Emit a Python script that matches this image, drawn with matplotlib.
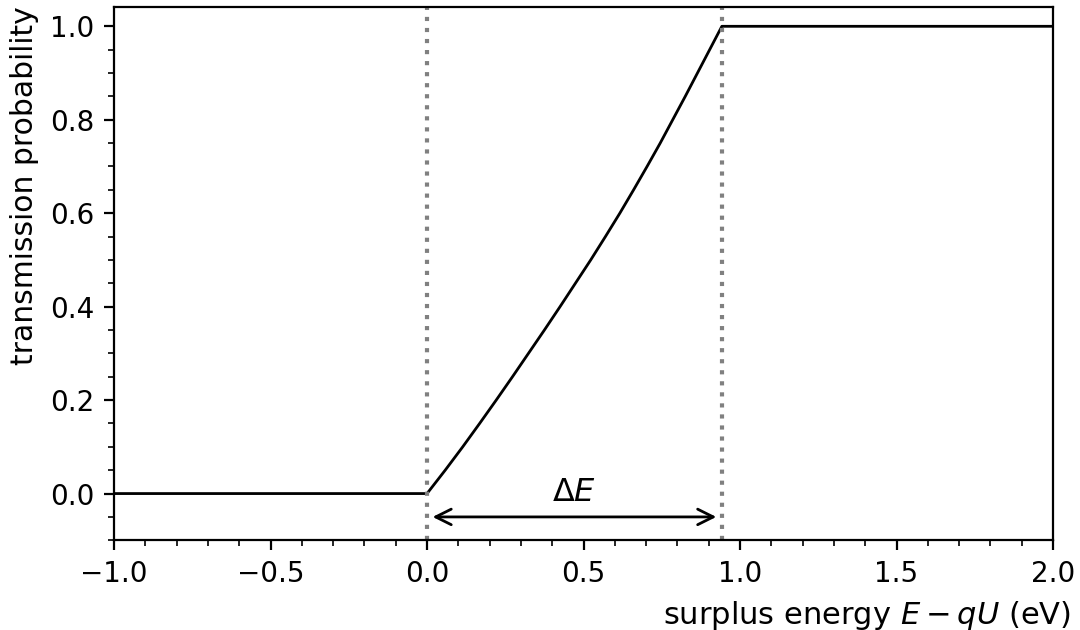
import matplotlib
matplotlib.use("Agg")
import matplotlib.pyplot as plt
from matplotlib.ticker import AutoMinorLocator

# values (flat below 0 and above delta E)
energy = [-1.0, 0.0, 0.058, 0.114, 0.168, 0.221, 0.273, 0.324, 0.375, 0.425,
          0.474, 0.523, 0.570, 0.616, 0.660, 0.703, 0.745, 0.785, 0.825,
          0.864, 0.903, 0.942, 2.0]
trans = [0.0, 0.0, 0.05, 0.10, 0.15, 0.20, 0.25, 0.30, 0.35, 0.40,
         0.45, 0.50, 0.55, 0.60, 0.65, 0.70, 0.75, 0.80, 0.85,
         0.90, 0.95, 1.0, 1.0]
delta_e = 0.942
arrow_y = -0.05

plt.rcParams['font.size'] = 10

fig = plt.figure(figsize=(5.4, 3.15), dpi=200)
ax = fig.add_axes([0.1056, 0.1424, 0.8694, 0.847])

ax.plot(energy, trans, color='black', lw=1.0)
ax.axvline(0.0, color='gray', ls=':', lw=1.5)
ax.axvline(delta_e, color='gray', ls=':', lw=1.5)

ax.annotate('', xy=(0.0, arrow_y), xytext=(delta_e, arrow_y),
            arrowprops=dict(arrowstyle='<->', color='black', lw=1.0,
                            mutation_scale=14))
ax.text(delta_e / 2, -0.03, r'$\Delta E$', ha='center', va='bottom', fontsize=11.5)

ax.set_xlim(-1.0, 2.0)
ax.set_ylim(-0.1, 1.042)
ax.xaxis.set_minor_locator(AutoMinorLocator())
ax.yaxis.set_minor_locator(AutoMinorLocator())

ax.set_xlabel(r'surplus energy $E - qU$ (eV)', ha='right', x=1.019, fontsize=11)
ax.set_ylabel('transmission probability', loc='top', fontsize=10.7)

fig.savefig('out.png', dpi=200)
